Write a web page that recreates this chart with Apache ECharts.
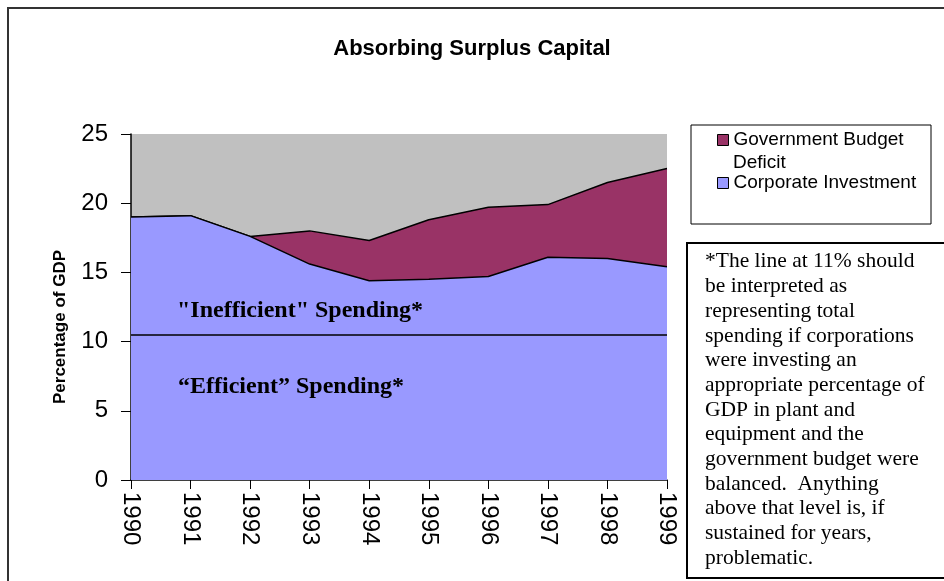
<!DOCTYPE html>
<html>
<head>
<meta charset="utf-8">
<script src="https://cdn.jsdelivr.net/npm/echarts@6/dist/echarts.min.js"></script>
<style>
html,body{margin:0;padding:0;background:#fff;}
#chart{width:944px;height:581px;}
</style>
</head>
<body>
<div id="chart"></div>
<script>
// ---- data ----
var years = ['1990','1991','1992','1993','1994','1995','1996','1997','1998','1999'];
var corporateInvestment = [19.0, 19.1, 17.6, 15.6, 14.4, 14.5, 14.7, 16.1, 16.0, 15.4];
var budgetDeficit = [0, 0, 0, 2.4, 2.9, 4.3, 5.0, 3.8, 5.5, 7.1];
var efficientLevel = 10.5;
var yTicks = [0, 5, 10, 15, 20, 25];

var chart = echarts.init(document.getElementById('chart'), null, {renderer: 'canvas'});

var boxText = [
  '*The line at 11% should',
  'be interpreted as',
  'representing total',
  'spending if corporations',
  'were investing an',
  'appropriate percentage of',
  'GDP in plant and',
  'equipment and the',
  'government budget were',
  'balanced.  Anything',
  'above that level is, if',
  'sustained for years,',
  'problematic.'
].join('\n');

var sans = 'Liberation Sans, Arial';
var serif = 'Liberation Serif, Times New Roman';
var legendCommon = {
  orient: 'vertical',
  left: 717,
  padding: 0,
  itemWidth: 11,
  itemHeight: 11,
  icon: 'rect',
  itemStyle: {borderColor: '#000', borderWidth: 1},
  textStyle: {fontFamily: sans, fontSize: 19, color: '#000', lineHeight: 22}
};

var option = {
  backgroundColor: '#ffffff',
  animation: false,
  title: {
    text: 'Absorbing Surplus Capital',
    left: 'center',
    top: 33,
    textStyle: {fontFamily: sans, fontWeight: 'bold', fontSize: 22, color: '#000'}
  },
  legend: [
    Object.assign({}, legendCommon, {
      top: 129,
      data: ['Government Budget Deficit'],
      formatter: function () { return 'Government Budget'; }
    }),
    Object.assign({}, legendCommon, {
      top: 172,
      data: ['Corporate Investment']
    })
  ],
  grid: {
    left: 131, right: 277, top: 134, bottom: 101,
    show: true, backgroundColor: '#C0C0C0', borderWidth: 0
  },
  xAxis: {
    type: 'category',
    data: years,
    boundaryGap: false,
    axisLine: {lineStyle: {color: '#000', width: 1.5}},
    axisTick: {show: true, length: 9, lineStyle: {color: '#000'}},
    axisLabel: {rotate: -90, margin: 12, fontFamily: sans, fontSize: 24, color: '#000'},
    splitLine: {show: false}
  },
  yAxis: {
    type: 'value',
    min: yTicks[0],
    max: yTicks[yTicks.length - 1],
    interval: 5,
    name: 'Percentage of GDP',
    nameLocation: 'middle',
    nameGap: 62,
    nameTextStyle: {fontFamily: sans, fontWeight: 'bold', fontSize: 17, color: '#000', padding: [0, 40, 0, 0]},
    axisLine: {show: true, lineStyle: {color: '#000', width: 1.5}},
    axisTick: {show: true, length: 10, lineStyle: {color: '#000'}},
    axisLabel: {margin: 23, fontFamily: sans, fontSize: 24, color: '#000'},
    splitLine: {show: false}
  },
  series: [
    {
      name: 'Corporate Investment',
      type: 'line',
      stack: 'total',
      data: corporateInvestment,
      symbol: 'none',
      lineStyle: {color: '#000', width: 1.5},
      itemStyle: {color: '#9999FF'},
      areaStyle: {color: '#9999FF', opacity: 1},
      z: 3,
      markLine: {
        silent: true,
        symbol: 'none',
        label: {show: false},
        lineStyle: {color: '#000', width: 1.5, type: 'solid'},
        data: [{yAxis: efficientLevel}]
      }
    },
    {
      name: 'Government Budget Deficit',
      type: 'line',
      stack: 'total',
      data: budgetDeficit,
      symbol: 'none',
      lineStyle: {color: '#000', width: 1.5},
      itemStyle: {color: '#993366'},
      areaStyle: {color: '#993366', opacity: 1},
      z: 2
    }
  ],
  graphic: [
    {
      type: 'rect', silent: true, z: -10,
      shape: {x: 8, y: 8, width: 1000, height: 1000},
      style: {fill: null, stroke: '#333', lineWidth: 2}
    },
    {
      type: 'rect', silent: true, z: -5,
      shape: {x: 691, y: 125, width: 240, height: 99},
      style: {fill: '#fff', stroke: '#000', lineWidth: 1}
    },
    {
      type: 'text', z: 10,
      x: 733, y: 163,
      style: {text: 'Deficit', fontFamily: sans, fontSize: 19, fill: '#000', verticalAlign: 'middle'}
    },
    {
      type: 'text', z: 10,
      x: 177, y: 311,
      style: {text: '"Inefficient" Spending*', fontFamily: serif, fontWeight: 'bold', fontSize: 24, fill: '#000', verticalAlign: 'middle'}
    },
    {
      type: 'text', z: 10,
      x: 178, y: 387,
      style: {text: '\u201CEfficient\u201D Spending*', fontFamily: serif, fontWeight: 'bold', fontSize: 24, fill: '#000', verticalAlign: 'middle'}
    },
    {
      type: 'rect', silent: true, z: 1,
      shape: {x: 687, y: 243, width: 260, height: 335},
      style: {fill: '#fff', stroke: '#000', lineWidth: 2}
    },
    {
      type: 'text', z: 10,
      x: 705, y: 249.5,
      style: {text: boxText, fontFamily: serif, fontSize: 21.5, lineHeight: 24.7, fill: '#000', verticalAlign: 'top'}
    }
  ]
};
chart.setOption(option);
</script>
</body>
</html>
